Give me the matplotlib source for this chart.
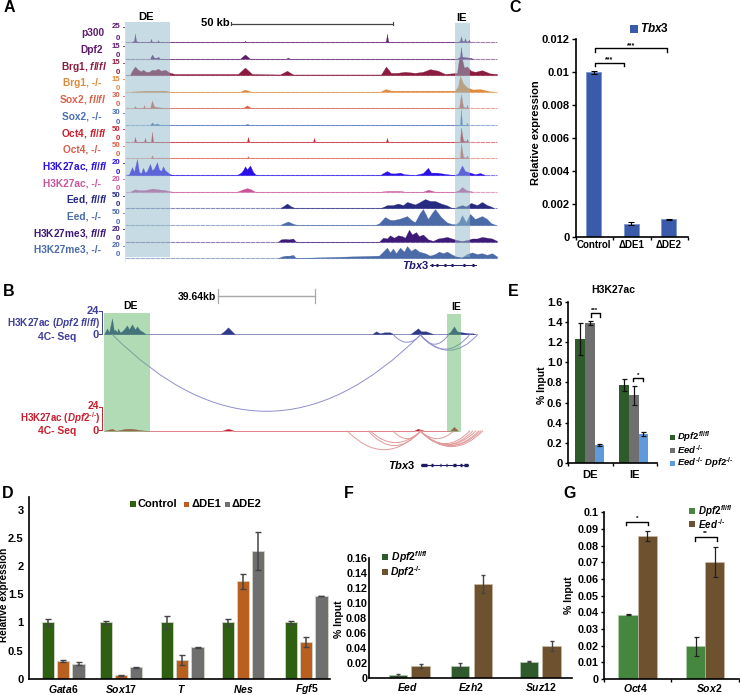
import matplotlib
matplotlib.use('Agg')
import matplotlib.pyplot as plt
from matplotlib.patches import PathPatch, Rectangle
from matplotlib.path import Path

plt.rcParams['font.family'] = ['Liberation Sans', 'DejaVu Sans']
plt.rcParams['font.weight'] = 'bold'
plt.rcParams['axes.labelweight'] = 'bold'
plt.rcParams['mathtext.fontset'] = 'custom'
plt.rcParams['mathtext.it'] = 'Liberation Sans:italic:bold'
plt.rcParams['mathtext.rm'] = 'Liberation Sans:bold'
plt.rcParams['mathtext.bf'] = 'Liberation Sans:bold'
plt.rcParams['mathtext.default'] = 'it'

W, H = 740, 695
KO = '\u2010/\u2010'

# --- panel A tracks: x in bins (1 bin = 50 kb / 162), y in signal units
p300_x = [7, 9, 10, 11, 13, 25, 26, 27, 32, 33, 34, 119, 120, 121, 260, 261, 262, 263, 264, 333, 335, 336, 337, 339, 340, 341, 343, 344, 345]
p300_y = [0, 2, 13, 2, 0, 0, 5, 0, 0, 3, 0, 0, 2, 0, 0, 2, 13, 2, 0, 0, 2, 9, 2, 1, 6, 1, 1, 4, 0]
dpf2_x = [25, 27, 29, 32, 33, 35, 115, 120, 125, 161, 163, 165, 332, 335, 336, 337, 340, 344, 348]
dpf2_y = [0, 4, 1, 1, 2, 0, 0, 4, 0, 0, 1, 0, 0, 2, 11, 2, 1.5, 1, 0]
brg1_x = [5, 7, 10, 13, 16, 18, 21, 24, 27, 30, 33, 36, 40, 45, 50, 113, 120, 127, 155, 162, 168, 256, 261, 266, 272, 280, 290, 298, 305, 313, 320, 332, 334, 337, 339, 342, 346, 350, 357, 365, 372]
brg1_y = [0, 4, 8, 5, 3.5, 5, 3, 3, 5, 4.5, 6, 4, 5, 2, 1, 1, 7, 1, 0.5, 4, 0.5, 0.5, 8, 2, 2, 3, 2, 3, 5.5, 4, 1, 2, 15, 15, 7, 8, 4, 3, 4.5, 1.5, 1]
brg1ko_x = [5, 20, 27, 40, 45, 115, 120, 126, 255, 261, 266, 300, 330, 333, 335, 338, 342, 348, 355, 364, 370]
brg1ko_y = [0, 1, 1, 1, 0, 0, 2, 0, 0, 2.5, 1, 1, 1, 5, 15, 8, 4, 2, 2.5, 0.5, 0]
sox2_x = [9, 10, 11, 18, 19, 20, 25, 27, 29, 33, 40, 118, 122, 126, 334, 336, 338, 341, 342, 343]
sox2_y = [0, 4, 0, 0, 6, 0, 0, 14, 3, 1.5, 0, 0, 5, 0, 0, 26, 3, 0, 6, 0]
sox2ko_x = [25, 27, 29, 32, 35, 119, 122, 125, 335, 336, 337, 341, 342, 343]
sox2ko_y = [0, 5, 1, 3, 0, 0, 2, 0, 0, 30, 0, 0, 4, 0]
oct4_x = [9, 10, 11, 19, 20, 21, 26, 27, 28, 122, 123, 124, 188, 189, 190, 261, 262, 263, 335, 336, 338, 341, 342, 343]
oct4_y = [0, 15, 0, 0, 12, 0, 0, 31, 0, 0, 15, 0, 0, 12, 0, 0, 12, 0, 0, 44, 5, 0, 9, 0]
oct4ko_x = [26, 27, 28, 122, 123, 124, 335, 336, 338, 341, 342, 343]
oct4ko_y = [0, 9, 0, 0, 6, 0, 0, 47, 5, 0, 8, 0]
ac_x = [2, 4, 7, 9, 12, 14, 16, 18, 20, 22, 25, 27, 29, 32, 34, 36, 38, 40, 42, 45, 48, 112, 116, 118, 120, 122, 125, 128, 131, 255, 259, 262, 266, 270, 275, 279, 290, 298, 303, 306, 312, 322, 330, 333, 337, 340, 345, 350, 355, 360]
ac_y = [0, 1, 10, 4, 20, 4, 2, 9, 3, 5, 14, 6, 8, 16, 7, 5, 11, 6, 4, 1, 0, 0, 3, 6, 11, 7, 12, 4, 0, 0, 3, 5, 2, 2, 3, 1, 0, 2.5, 9, 3, 3, 1, 0, 2, 12, 5, 3, 1, 2.5, 0]
acko_x = [5, 10, 14, 20, 27, 33, 40, 47, 112, 118, 122, 126, 130, 255, 262, 275, 280, 298, 303, 310, 330, 334, 337, 341, 348]
acko_y = [0, 3, 2, 2, 4, 3, 2, 0, 0, 3, 4.5, 3, 0, 0, 1, 1, 0, 0, 2.5, 0, 0, 2, 6, 2, 0]
eed_x = [155, 158, 162, 166, 170, 255, 258, 262, 268, 273, 278, 282, 290, 295, 300, 305, 310, 316, 322, 327, 330, 333, 337, 341, 346, 352, 357, 362, 365, 369]
eed_y = [0, 5, 14, 5, 0, 0, 3, 9, 9, 14, 9, 19, 11, 19, 28, 22, 22, 14, 8, 0, 0, 5, 9, 5, 16, 9, 19, 9, 6, 0]
eedko_x = [155, 159, 163, 168, 172, 250, 254, 260, 265, 269, 275, 282, 287, 290, 295, 298, 303, 307, 310, 316, 322, 327, 331, 334, 337, 341, 345, 350, 357, 362, 366, 371]
eedko_y = [0, 6, 11, 4, 0, 0, 5, 25, 16, 16, 20, 28, 14, 9, 38, 50, 19, 38, 50, 25, 8, 3, 3, 10, 31, 9, 35, 19, 28, 19, 6, 0]
me3_x = [153, 156, 160, 164, 168, 171, 254, 258, 262, 265, 269, 273, 277, 280, 284, 287, 291, 294, 298, 303, 308, 313, 318, 322, 327, 332, 337, 342, 347, 352, 357, 362, 367, 372]
me3_y = [0, 3, 3.5, 3, 4, 0, 0, 5, 4, 8, 5, 8, 7, 5, 15, 9, 12, 7, 9, 3, 1, 4, 5, 6, 4, 2, 1, 2, 4, 4, 6, 5, 4, 1]
me3ko_x = [153, 157, 161, 165, 168, 171, 254, 258, 262, 265, 268, 271, 275, 279, 282, 286, 290, 294, 300, 305, 310, 314, 318, 322, 326, 331, 337, 342, 347, 352, 357, 362, 367, 372]
me3ko_y = [0, 2, 3, 3, 4, 0, 3, 8, 13, 7, 12, 6, 13, 8, 15, 9, 12, 8, 6, 3, 5, 8, 6, 8, 5, 2, 1, 5, 7, 5, 6, 4, 6, 2]

track_data = [
    ('p300', '', '#5e1a6e', 104, 42, 25, p300_x, p300_y),
    ('Dpf2', '', '#5e1a6e', 103, 58.7, 15, dpf2_x, dpf2_y),
    ('Brg1, ', r'$\mathit{fl/fl}$', '#8b1c3f', 107, 75, 15, brg1_x, brg1_y),
    ('Brg1, -/-', '', '#e08a3c', 101, 91.7, 15, brg1ko_x, brg1ko_y),
    ('Sox2, ', r'$\mathit{fl/fl}$', '#d9604a', 106, 108, 30, sox2_x, sox2_y),
    ('Sox2, -/-', '', '#4a6fb5', 101, 125, 30, sox2ko_x, sox2ko_y),
    ('Oct4, ', r'$\mathit{fl/fl}$', '#c8202f', 106, 141.7, 50, oct4_x, oct4_y),
    ('Oct4, -/-', '', '#d9604a', 101, 158, 50, oct4ko_x, oct4ko_y),
    ('H3K27ac, ', r'$\mathit{fl/fl}$', '#2a10e8', 108, 175, 20, ac_x, ac_y),
    ('H3K27ac, -/-', '', '#c8559a', 101, 191.7, 20, acko_x, acko_y),
    ('Eed, ', r'$\mathit{fl/fl}$', '#262a80', 108, 208, 50, eed_x, eed_y),
    ('Eed, -/-', '', '#4a6aa8', 101, 225, 50, eedko_x, eedko_y),
    ('H3K27me3, ', r'$\mathit{fl/fl}$', '#3d1a78', 108, 241.7, 20, me3_x, me3_y),
    ('H3K27me3, -/-', '', '#4a6aa8', 101, 258, 20, me3ko_x, me3ko_y),
]

# --- panel B tracks and loops (bins from the left edge of the DE box)
b_blue_x = [0, 3, 5, 8, 10, 11, 13, 14, 16, 18, 20, 23, 25, 28, 31, 33, 36, 38, 42, 116, 120, 124, 128, 131, 268, 272, 276, 280, 286, 290, 306, 310, 314, 317, 322, 330, 342, 346, 350, 353, 358, 366, 369, 372]
b_blue_y = [0, 6, 2, 16, 3, 5, 2, 6, 2, 3, 5, 9, 5, 10, 5, 8, 4, 3, 0, 0, 3, 7, 3, 0, 0, 3, 1, 2, 2, 0, 0, 3, 6, 3, 3, 0, 0, 2, 8, 3, 2, 1, 1, 0]
b_red_x = [0, 8, 12, 22, 28, 34, 42, 118, 124, 130, 310, 314, 320, 346, 350, 354]
b_red_y = [0, 2, 0, 2, 2, 1, 0, 0, 2, 0, 0, 2, 0, 0, 4, 0]
blue_arc_a = [8, 289, 316, 316, 316]
blue_arc_b = [317, 317, 374, 366, 345]
blue_arc_d = [77, 8, 16, 15, 10]
red_arc_a = [243, 264, 266, 289, 316, 316, 316, 316, 316, 316, 316]
red_arc_b = [317, 317, 317, 317, 379, 377, 375, 372, 369, 366, 350]
red_arc_d = [19, 15, 12, 8, 16, 15, 15, 14, 14, 13, 8]

# --- bar panels
c_names = ['Control', 'ΔDE1', 'ΔDE2']
c_vals = [0.00997, 0.0008, 0.00107]
c_errs = [0.0001, 0.00008, 0.00003]

d_genes = ['Gata6', 'Sox17', 'T', 'Nes', 'Fgf5']
d_pos = [0, 0.95, 1.96, 2.96, 4.0]
d_control = [1, 1, 1, 1, 1]
d_control_err = [0.07, 0.02, 0.12, 0.07, 0.03]
d_de1 = [0.31, 0.06, 0.33, 1.73, 0.66]
d_de1_err = [0.02, 0.01, 0.09, 0.14, 0.09]
d_de2 = [0.27, 0.2, 0.56, 2.27, 1.47]
d_de2_err = [0.02, 0.01, 0.01, 0.34, 0]

e_groups = ['DE', 'IE']
e_dpf2 = [1.23, 0.77]
e_dpf2_err = [0.16, 0.06]
e_eed = [1.39, 0.67]
e_eed_err = [0.02, 0.09]
e_dko = [0.18, 0.29]
e_dko_err = [0.01, 0.02]

f_genes = ['Eed', 'Ezh2', 'Suz12']
f_pos = [0, 0.95, 2]
f_fl = [0.004, 0.016, 0.022]
f_fl_err = [0.002, 0.004, 0.001]
f_ko = [0.016, 0.125, 0.043]
f_ko_err = [0.003, 0.012, 0.007]

g_genes = ['Oct4', 'Sox2']
g_fl = [0.0385, 0.0195]
g_fl_err = [0.0003, 0.0055]
g_eed = [0.086, 0.07]
g_eed_err = [0.003, 0.009]

fig = plt.figure(figsize=(W / 100, H / 100), dpi=100)


def ax_px(left, top, right, bottom):
    ax = fig.add_axes([left / W, 1 - bottom / H, (right - left) / W, (bottom - top) / H])
    ax.patch.set_alpha(0)
    return ax


# overlay in pixel coordinates for labels and shaded boxes
ov = fig.add_axes([0, 0, 1, 1], zorder=5)
ov.set_xlim(0, W)
ov.set_ylim(H, 0)
ov.axis('off')


def txt(x, y, s, size=7.5, color='black', ha='center', **kw):
    ov.text(x, y, s, fontsize=size, color=color, ha=ha, va='center', **kw)


for s, x, y in [('A', 9, 8), ('C', 515, 8), ('B', 9, 291), ('E', 513, 291), ('D', 8, 493), ('F', 349, 493), ('G', 570, 493)]:
    txt(x, y, s, size=11.5)

# panel A
for label, ital, col, right, base, ymax, xs, ys in track_data:
    ax = ax_px(125, base - 16, 497, base)
    ax.set_xlim(0, 372)
    ax.set_ylim(0, ymax)
    ax.plot([0, 372], [0, 0], color=col, lw=0.8, ls=(0, (4, 0.5)), alpha=0.55, clip_on=False)
    ax.fill_between(xs, 0, ys, color=col, lw=0.2, clip_on=False)
    ax.axis('off')
    txt(right, base - 8.5, label + ital, size=7.3, color=col, ha='right')
    top_y = 26.5 if label == 'p300' else base - 12.5
    txt(120, top_y, str(ymax), size=5.6, color=col, ha='right')
    txt(120, base - 3, '0', size=5.6, color=col, ha='right')
    ov.plot([122.5, 124], [top_y, top_y], color=col, lw=0.6)

ov.plot([125, 125], [24, 261], color='#eddccc', lw=0.6)
ov.add_patch(Rectangle((125, 22), 44.5, 235, color='#8fb9c9', alpha=0.5, lw=0))
ov.add_patch(Rectangle((455, 23), 14.5, 234, color='#8fb9c9', alpha=0.5, lw=0))
txt(146, 17, 'DE', size=8)
txt(461.7, 18, 'IE', size=8)
txt(215, 23, '50 kb', size=8)
ov.plot([231, 393], [23.5, 23.5], color='#444444', lw=0.9)
ov.plot([231, 231], [22, 25], color='#444444', lw=0.8)
ov.plot([393, 393], [22, 25], color='#444444', lw=0.8)
txt(416, 265, r'$\mathit{Tbx3}$', size=8, color='#1f1a66')
ov.plot([430, 476], [265, 265], color='#1f1a66', lw=0.7)
for ex in [431, 436, 444, 451, 463, 472]:
    ov.plot([ex, ex + 1.5], [265, 265], color='#1f1a66', lw=2.2, solid_capstyle='butt')

# panel B
blue, red = '#2f3a8c', '#c8202f'
for xs, ys, col, base in [(b_blue_x, b_blue_y, blue, 334.3), (b_red_x, b_red_y, red, 430.7)]:
    ax = ax_px(104, base - 24, 485, base)
    ax.set_xlim(0, 381)
    ax.set_ylim(0, 24)
    ax.plot([0, 381], [0, 0], color=col, lw=0.6, ls=(0, (5, 1.5)), alpha=0.5)
    ax.fill_between(xs, 0, ys, color=col, lw=0.2)
    ax.axis('off')

for a_list, b_list, d_list, col, base in [(blue_arc_a, blue_arc_b, blue_arc_d, '#8f8fca', 334.3),
                                          (red_arc_a, red_arc_b, red_arc_d, '#e39a9a', 430.7)]:
    ax = ax_px(104, base, 485, base + 100)
    ax.set_xlim(0, 381)
    ax.set_ylim(-100, 0)
    ax.axis('off')
    for a, b, d in zip(a_list, b_list, d_list):
        loop = Path([(a, 0), ((a + b) / 2, -2 * d), (b, 0)], [Path.MOVETO, Path.CURVE3, Path.CURVE3])
        ax.add_patch(PathPatch(loop, fc='none', ec=col, lw=0.7, clip_on=False))

ov.add_patch(Rectangle((103.7, 313), 46, 119, color='#5db566', alpha=0.48, lw=0))
ov.add_patch(Rectangle((447, 314), 14.3, 118, color='#5db566', alpha=0.48, lw=0))
txt(130.7, 306, 'DE', size=7.5)
txt(455.7, 306.5, 'IE', size=7.5)
txt(216, 297, '39.64kb', size=7.5, ha='right')
ov.plot([217.7, 315], [295.7, 295.7], color='#a8a8a8', lw=1)
ov.plot([217.7, 217.7], [289, 303], color='#a8a8a8', lw=0.9)
ov.plot([315, 315], [289, 303], color='#a8a8a8', lw=0.9)
txt(100.7, 323, r'H3K27ac ($\mathit{Dpf2\ fl/fl}$)', size=7.2, color='#3f3f9a', ha='right')
txt(76, 337, '4C- Seq', size=7.5, color='#3f3f9a', ha='right')
txt(99, 311, '24', size=8, color='#3f3f9a', ha='right')
txt(99, 335, '0', size=8, color='#3f3f9a', ha='right')
txt(100.7, 418.5, r'H3K27ac ($\mathit{Dpf2}^{' + KO + r'}$)', size=7, color=red, ha='right')
txt(76, 431, '4C- Seq', size=7.5, color=red, ha='right')
txt(99, 406, '24', size=7.5, color=red, ha='right')
txt(99, 431, '0', size=8, color=red, ha='right')
ov.plot([99, 102, 102, 99], [311, 311, 334, 334], color='#3f3f9a', lw=0.7)
ov.plot([99, 102, 102, 99], [407, 407, 430, 430], color=red, lw=0.7)
txt(416, 465, r'$\mathit{Tbx3}$', size=8, ha='right')
ov.plot([421, 468], [465, 465], color='#1f1a66', lw=0.8)
for ex, wd in [(421, 6), (431, 1.5), (440, 1), (446, 1), (453, 3), (460, 2), (464, 4)]:
    ov.plot([ex, ex + wd], [465, 465], color='#1f1a66', lw=2.4, solid_capstyle='butt')


def style_bar_axis(ax, yticks, ylabels, length, size=8):
    ax.spines['top'].set_visible(False)
    ax.spines['right'].set_visible(False)
    ax.spines['left'].set_linewidth(1.2)
    ax.spines['bottom'].set_linewidth(1.2)
    ax.set_yticks(yticks)
    ax.set_yticklabels(ylabels, fontsize=size)
    ax.tick_params(axis='y', length=length, width=1, pad=1.5)


def bracket(x0, x1, y, drop=3.5):
    ov.plot([x0, x0, x1, x1], [y + drop, y, y, y + drop], color='black', lw=1)


def legend_item(x, y, col, s, size=7.5, sq=6):
    ov.add_patch(Rectangle((x, y - sq / 2), sq, sq, color=col, lw=0))
    txt(x + sq + 2, y, s, size=size, ha='left')


# panel C
ax = ax_px(576, 39, 688, 236.7)
ax.bar(range(3), c_vals, 0.4, color='#3a5ba9', edgecolor='#7f9ad0', lw=0.7, yerr=c_errs,
       error_kw=dict(ecolor='black', capsize=2.5, elinewidth=0.8, capthick=0.8))
ax.set_xlim(-0.48, 2.51)
ax.set_ylim(0, 0.012)
style_bar_axis(ax, [0, 0.002, 0.004, 0.006, 0.008, 0.01, 0.012], ['0', '0.002', '0.004', '0.006', '0.008', '0.01', '0.012'], 3)
ax.set_xticks([-0.48, 0.5, 1.51, 2.51])
ax.set_xticklabels([])
ax.tick_params(axis='x', length=2.5, width=1)
for i, name in enumerate(c_names):
    txt(594 + i * 37.5, 245, name, size=7)
txt(536, 133, 'Relative expression', size=8, rotation=90)
bracket(595, 667, 48)
bracket(595, 624, 62.7)
txt(631, 45.5, '***', size=5)
txt(609.5, 60, '***', size=5)
legend_item(630, 29, '#3a5ba9', r'$\mathit{Tbx3}$', size=8.5, sq=8)

# panel D
ax = ax_px(29, 497, 330, 678.7)
err_d = dict(ecolor='#444444', capsize=2.5, elinewidth=1.1, capthick=1)
for off, vals, errs, col in [(-0.25, d_control, d_control_err, '#2f5f10'),
                             (0, d_de1, d_de1_err, '#b95f20'),
                             (0.25, d_de2, d_de2_err, '#6f6f6f')]:
    ax.bar([p + off for p in d_pos], vals, 0.2, color=col, edgecolor='#d5d5cc', lw=0.6, yerr=errs, error_kw=err_d)
ax.set_xlim(-0.565, 4.39)
ax.set_ylim(0, 3.23)
style_bar_axis(ax, [0, 0.5, 1, 1.5, 2, 2.5, 3], ['0', '0.5', '1', '1.5', '2', '2.5', '3'], 0)
ax.tick_params(axis='y', pad=4)
ax.set_xticks([])
for px, name in zip([63, 121, 182, 243, 307], d_genes):
    txt(px, 689, r'$\mathit{' + name + '}$', size=7.5)
txt(4, 595, 'Relative expression', size=7.2, rotation=90)
legend_item(130, 504, '#2f5f10', 'Control', size=8, sq=6)
legend_item(184, 504, '#b95f20', 'ΔDE1', size=8, sq=5)
legend_item(225, 504, '#6f6f6f', 'ΔDE2', size=8, sq=5)

# panel E
ax = ax_px(568, 301.7, 657, 463)
err_e = dict(ecolor='#111111', capsize=1.8, elinewidth=0.9, capthick=0.9)
for off, vals, errs, col in [(-0.223, e_dpf2, e_dpf2_err, '#2e5a2c'),
                             (0, e_eed, e_eed_err, '#6f6f6f'),
                             (0.223, e_dko, e_dko_err, '#5f9bdb')]:
    ax.bar([i + off for i in range(2)], vals, 0.223, color=col, lw=0, yerr=errs, error_kw=err_e)
ax.set_xlim(-0.49, 1.53)
ax.set_ylim(0, 1.6)
yt = [0, 0.2, 0.4, 0.6, 0.8, 1.0, 1.2, 1.4, 1.6]
style_bar_axis(ax, yt, ['0', '0.2', '0.4', '0.6', '0.8', '1.0', '1.2', '1.4', '1.6'], 2.5)
ax.set_xticks([-0.49, 0.52, 1.53])
ax.set_xticklabels([])
ax.tick_params(axis='x', length=2.5, width=1)
txt(590, 475, e_groups[0], size=8)
txt(634, 475, e_groups[1], size=8)
txt(613, 290, 'H3K27ac', size=7.5)
txt(542, 385, '% Input', size=7.5, rotation=90)
bracket(590.7, 600, 313)
bracket(633, 642.7, 377.7)
txt(595, 310.5, '***', size=4.5)
txt(638, 375, '*', size=4.5)
legend_item(670, 437, '#2e5a2c', r'$\mathit{Dpf2}^{fl/fl}$', size=6.8, sq=5)
legend_item(670, 450, '#6f6f6f', r'$\mathit{Eed}^{' + KO + '}$', size=6.8, sq=5)
legend_item(670, 463, '#5f9bdb', r'$\mathit{Eed}^{' + KO + r'}\mathit{\ Dpf2}^{' + KO + '}$', size=6.8, sq=5)

# panel F
ax = ax_px(369.3, 558, 571.7, 678)
err_f = dict(ecolor='#444444', capsize=1.5, elinewidth=1, capthick=1)
ax.bar([p - 0.173 for p in f_pos], f_fl, 0.28, color='#2e5a2c', edgecolor='#b8c8b8', lw=0.5, yerr=f_fl_err, error_kw=err_f)
ax.bar([p + 0.173 for p in f_pos], f_ko, 0.28, color='#6e5230', edgecolor='#c8bca8', lw=0.5, yerr=f_ko_err, error_kw=err_f)
ax.set_xlim(-0.61, 2.48)
ax.set_ylim(0, 0.16)
style_bar_axis(ax, [0, 0.02, 0.04, 0.06, 0.08, 0.10, 0.12, 0.14, 0.16],
               ['0', '0.02', '0.04', '0.06', '0.08', '0.10', '0.12', '0.14', '0.16'], 0, size=7.8)
ax.set_xticks([])
for px, name in zip([408, 471, 541], f_genes):
    txt(px, 687, r'$\mathit{' + name + '}$', size=7.5)
txt(339, 619, '% Input', size=7.5, rotation=90)
legend_item(382, 557, '#2e5a2c', r'$\,\mathit{Dpf2}^{fl/fl}$', sq=6)
legend_item(382, 572, '#6e5230', r'$\mathit{Dpf2}^{' + KO + '}$', sq=6)

# panel G
ax = ax_px(604.3, 512.3, 739, 679)
err_g = dict(ecolor='#222222', capsize=1.8, elinewidth=0.9, capthick=0.9)
ax.bar([i - 0.142 for i in range(2)], g_fl, 0.284, color='#46873f', edgecolor='#b8cfb5', lw=0.4, yerr=g_fl_err, error_kw=err_g)
ax.bar([i + 0.142 for i in range(2)], g_eed, 0.284, color='#6e5230', edgecolor='#c8bca8', lw=0.4, yerr=g_eed_err, error_kw=err_g)
ax.set_xlim(-0.493, 1.5)
ax.set_ylim(0, 0.1)
style_bar_axis(ax, [0, 0.01, 0.02, 0.03, 0.04, 0.05, 0.06, 0.07, 0.08, 0.09, 0.1],
               ['0', '0.01', '0.02', '0.03', '0.04', '0.05', '0.06', '0.07', '0.08', '0.09', '0.1'], 2.5, size=7.8)
ax.set_xticks([-0.493, 0.5, 1.5])
ax.set_xticklabels([])
ax.tick_params(axis='x', length=2.5, width=1)
txt(635, 688, r'$\mathit{' + g_genes[0] + '}$', size=7.5)
txt(709, 688, r'$\mathit{' + g_genes[1] + '}$', size=7.5)
txt(569, 595, '% Input', size=7.5, rotation=90)
bracket(625.7, 647.7, 521.7)
bracket(694.7, 716.7, 537)
txt(636.7, 518, '*', size=4.5)
txt(705.7, 533, '**', size=4.5)
legend_item(689, 511, '#46873f', r'$\,\mathit{Dpf2}^{fl/fl}$', size=7, sq=6)
legend_item(689, 524, '#6e5230', r'$\,\mathit{Eed}^{' + KO + '}$', size=7, sq=6)

fig.savefig('out.png', dpi=100)
